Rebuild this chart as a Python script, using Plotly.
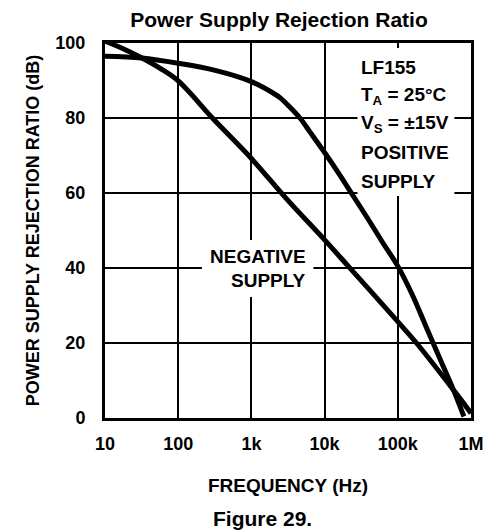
import plotly.graph_objects as go

# ---- data ----
freq_positive = [10, 32, 100, 320, 1000, 2000, 2500, 3200, 4600, 6300, 10000, 16000,
                 25000, 40000, 63000, 100000, 160000, 250000, 400000, 575000, 800000]
psrr_positive = [96.5, 96.0, 94.6, 92.7, 89.7, 86.6, 85.3, 83.3, 80.0, 76.3, 70.8, 64.9,
                 59.0, 52.8, 46.6, 40.5, 32.6, 23.8, 14.6, 7.5, 0.4]

freq_negative = [10, 18, 32, 56, 100, 300, 1000, 3000, 10000, 21000, 100000, 180000,
                 575000, 1000000]
psrr_negative = [100.5, 98.4, 96.0, 93.3, 89.9, 79.8, 69.2, 58.5, 47.5, 40.5, 25.7, 20.0,
                 7.5, 1.3]

x_tick_vals = [10, 100, 1000, 10000, 100000, 1000000]
x_tick_text = ["10", "100", "1k", "10k", "100k", "1M"]
y_tick_vals = [0, 20, 40, 60, 80, 100]

FONT = "Liberation Sans, Arial, Helvetica, sans-serif"
OFF = 8  # page body margin of the html page
W, H = 496 - OFF, 531 - OFF
L, R, T, B = 105, 479, 43, 418  # plot-area edges in page pixels


def px(x):
    return (x - L) / (R - L)


def py(y):
    return (B - y) / (B - T)


fig = go.Figure()
for xs, ys in ((freq_positive, psrr_positive), (freq_negative, psrr_negative)):
    fig.add_trace(go.Scatter(x=xs, y=ys, mode="lines",
                             line=dict(color="black", width=5, shape="spline", smoothing=1.0),
                             showlegend=False, hoverinfo="skip"))

# white backgrounds behind the in-plot labels (cut the grid like the original)
for (x0, x1, y0, y1) in ((363, 462, 48, 196), (204, 318, 240, 297)):
    fig.add_shape(type="rect", xref="paper", yref="paper",
                  x0=px(x0), x1=px(x1), y0=py(y1), y1=py(y0),
                  fillcolor="white", line=dict(width=0), layer="above")

right_lines = [("LF155", 68), ("T<sub>A</sub> = 25°C", 96), ("V<sub>S</sub> = ±15V", 124),
               ("POSITIVE", 152), ("SUPPLY", 181)]
for txt, yc in right_lines:
    fig.add_annotation(text=txt, xref="paper", yref="paper", x=px(365), y=py(yc),
                       xanchor="left", yanchor="middle", showarrow=False,
                       font=dict(family=FONT, size=19, color="black", weight="bold"))

for txt, yc in (("NEGATIVE", 256), ("SUPPLY", 280)):
    fig.add_annotation(text=txt, xref="paper", yref="paper", x=px(312), y=py(yc),
                       xanchor="right", yanchor="middle", showarrow=False,
                       font=dict(family=FONT, size=19, color="black", weight="bold"))

fig.add_annotation(text="Figure 29.", xref="paper", yref="paper", x=px(266), y=py(518),
                   xanchor="center", yanchor="middle", showarrow=False,
                   font=dict(family=FONT, size=21, color="black", weight="bold"))

fig.update_layout(
    width=W, height=H,
    margin=dict(l=L - OFF, r=496 - R, t=T - OFF, b=531 - B),
    paper_bgcolor="white", plot_bgcolor="white",
    title=dict(text="Power Supply Rejection Ratio", x=(279 - OFF) / W, y=1 - (19.5 - OFF) / H,
               xanchor="center", yanchor="middle",
               font=dict(family=FONT, size=21, color="black", weight="bold")),
    xaxis=dict(type="log", range=[1, 6], tickvals=x_tick_vals, ticktext=x_tick_text,
               showgrid=True, gridcolor="black", gridwidth=1.5,
               showline=True, linecolor="black", linewidth=3, mirror=True,
               ticks="", ticklabelstandoff=7, zeroline=False,
               tickfont=dict(family=FONT, size=18, color="black", weight="bold"),
               title=dict(text="FREQUENCY (Hz)", standoff=27,
                          font=dict(family=FONT, size=19, color="black", weight="bold"))),
    yaxis=dict(range=[0, 100], tickvals=y_tick_vals,
               showgrid=True, gridcolor="black", gridwidth=1.5,
               showline=True, linecolor="black", linewidth=3, mirror=True,
               ticks="", ticklabelstandoff=13, zeroline=False,
               tickfont=dict(family=FONT, size=18, color="black", weight="bold"),
               title=dict(text="POWER SUPPLY REJECTION RATIO (dB)", standoff=12,
                          font=dict(family=FONT, size=18, color="black", weight="bold"))),
)

fig.write_html("out.html")
